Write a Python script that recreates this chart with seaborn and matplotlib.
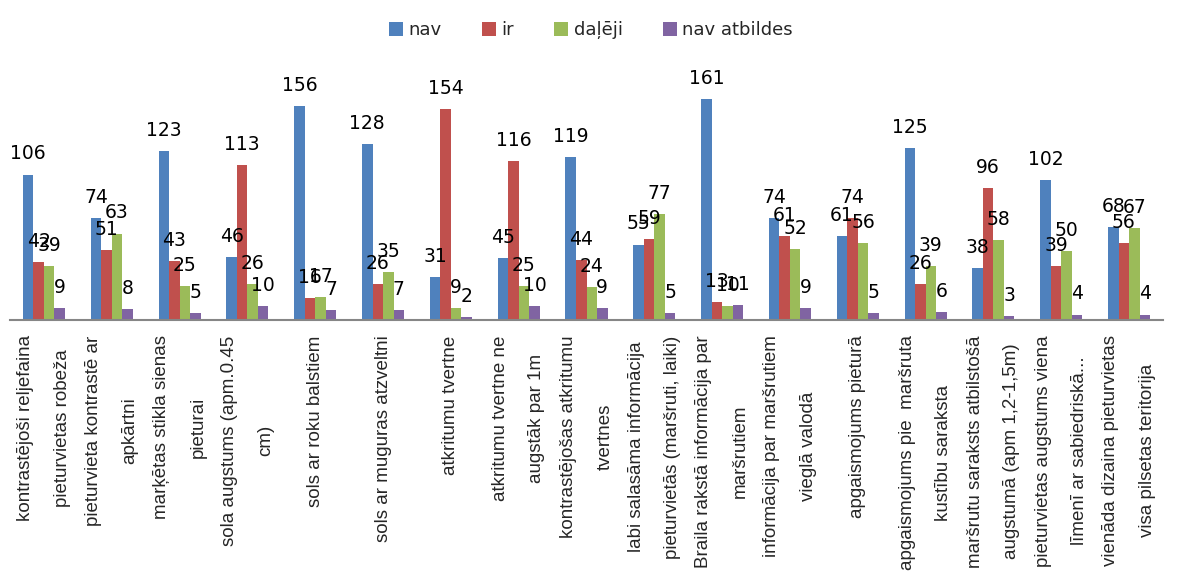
import matplotlib
matplotlib.use("Agg")
import matplotlib.pyplot as plt
import seaborn as sns
import pandas as pd

categories = [
    "kontrastējoši reljefaina\npieturvietas robeža",
    "pieturvieta kontrastē ar\napkārtni",
    "marķētas stikla sienas\npieturai",
    "sola augstums (apm.0.45\ncm)",
    "sols ar roku balstiem",
    "sols ar muguras atzveltni",
    "atkritumu tvertne",
    "atkritumu tvertne ne\naugstāk par 1m",
    "kontrastējošas atkritumu\ntvertnes",
    "labi salasāma informācija\npieturvietās (maršruti, laiki)",
    "Braila rakstā informācija par\nmaršrutiem",
    "informācija par maršrutiem\nvieglā valodā",
    "apgaismojums pieturā",
    "apgaismojums pie  maršruta\nkustību saraksta",
    "maršrutu saraksts atbilstošā\naugstumā (apm 1,2-1,5m)",
    "pieturvietas augstums viena\nlīmenī ar sabiedriskā...",
    "vienāda dizaina pieturvietas\nvisa pilsetas teritorija",
]

series_names = ["nav", "ir", "daļēji", "nav atbildes"]
nav = [106, 74, 123, 46, 156, 128, 31, 45, 119, 55, 161, 74, 61, 125, 38, 102, 68]
ir = [42, 51, 43, 113, 16, 26, 154, 116, 44, 59, 13, 61, 74, 26, 96, 39, 56]
daleji = [39, 63, 25, 26, 17, 35, 9, 25, 24, 77, 10, 52, 56, 39, 58, 50, 67]
nav_atbildes = [9, 8, 5, 10, 7, 7, 2, 10, 9, 5, 11, 9, 5, 6, 3, 4, 4]

colors = ["#4F81BD", "#C0504D", "#9BBB59", "#8064A2"]

rows = []
for name, vals in zip(series_names, [nav, ir, daleji, nav_atbildes]):
    for cat, v in zip(categories, vals):
        rows.append({"kategorija": cat, "atbilde": name, "skaits": v})
df = pd.DataFrame(rows)

sns.set_theme(style="white")
plt.rcParams["font.family"] = ["DejaVu Sans"]

fig = plt.figure(figsize=(11.79, 5.83), dpi=100)
ax = fig.add_axes([10 / 1179, 263 / 583, 1153 / 1179, 247 / 583])

sns.barplot(
    data=df, x="kategorija", y="skaits", hue="atbilde",
    order=categories, hue_order=series_names, palette=colors,
    width=0.62, saturation=1, errorbar=None, linewidth=0,
    ax=ax, legend=True,
)

for container in ax.containers:
    ax.bar_label(container, fmt="%d", padding=8, fontsize=13.5, color="black")

ax.set_ylim(0, 180)
ax.set_xlim(-0.5, len(categories) - 0.5)
ax.set_xlabel("")
ax.set_ylabel("")
ax.set_yticks([])
for side in ["left", "right", "top"]:
    ax.spines[side].set_visible(False)
ax.spines["bottom"].set_color("#868686")
ax.spines["bottom"].set_linewidth(1.5)

ax.set_xticks(range(len(categories)))
ax.set_xticklabels(categories, rotation=90, fontsize=13.5,
                   family=["Liberation Sans", "DejaVu Sans"],
                   multialignment="center", linespacing=2.5)
ax.tick_params(axis="x", length=0, pad=11)

handles, labels = ax.get_legend_handles_labels()
ax.legend(handles, labels, ncol=4, frameon=False, fontsize=13,
          loc="center", bbox_to_anchor=(591 / 1179, 1 - 30 / 583),
          bbox_transform=fig.transFigure,
          handlelength=0.8, handleheight=0.8, handletextpad=0.3,
          columnspacing=2.2)

fig.savefig("out.png", dpi=100)
